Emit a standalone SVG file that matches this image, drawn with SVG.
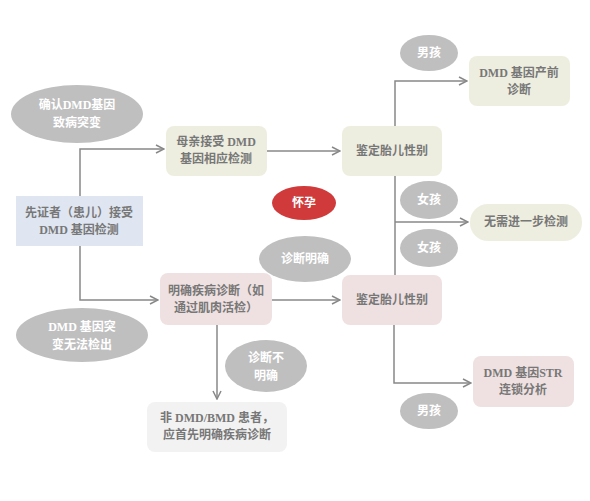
<svg xmlns="http://www.w3.org/2000/svg" width="590" height="501" viewBox="0 0 590 501">
<defs>
<style>
.t{font-family:"Liberation Serif","Noto Sans CJK SC",serif;font-size:12px;font-weight:bold;text-anchor:middle;fill:#777}
.w{fill:#fff}
.ell{fill:#bfbfbf}
.beige{fill:#eeeee0}
.pink{fill:#efe1e1}
.blue{fill:#dfe6f1}
.grey{fill:#f2f2f2}
.ln{fill:none;stroke:#888;stroke-width:1.5}
</style>
<marker id="ah" viewBox="0 0 10 10" refX="9" refY="5" markerWidth="10" markerHeight="10" markerUnits="userSpaceOnUse" orient="auto">
<path d="M1,1 L9,5 L1,9" fill="none" stroke="#888" stroke-width="1.5"/>
</marker>
</defs>
<rect width="590" height="501" fill="#fff"/>
<g id="connectors">
<path class="ln" d="M80,196 V149 H164" marker-end="url(#ah)"/>
<path class="ln" d="M80,246 V300 H158" marker-end="url(#ah)"/>
<path class="ln" d="M267,151 H340" marker-end="url(#ah)"/>
<path class="ln" d="M272,300 H340" marker-end="url(#ah)"/>
<path class="ln" d="M395,126 V81 H467" marker-end="url(#ah)"/>
<path class="ln" d="M395,176 V275"/>
<path class="ln" d="M395,222 H468" marker-end="url(#ah)"/>
<path class="ln" d="M394,325 V383 H471" marker-end="url(#ah)"/>
<path class="ln" d="M217,325 V399" marker-end="url(#ah)"/>
</g>
<g id="n-confirm"><ellipse class="ell" cx="77" cy="114" rx="66" ry="29"/><text class="t w" x="77" y="109">确认DMD基因</text><text class="t w" x="77" y="127">致病突变</text></g>
<g id="n-proband"><rect class="blue" x="16" y="196" width="127" height="50"/><text class="t" x="79" y="217">先证者（患儿）接受</text><text class="t" x="79" y="234">DMD 基因检测</text></g>
<g id="n-mother"><rect class="beige" x="166" y="126" width="101" height="50" rx="8"/><text class="t" x="216" y="146">母亲接受 DMD</text><text class="t" x="216" y="163">基因相应检测</text></g>
<g id="n-nodetect"><ellipse class="ell" cx="82" cy="335" rx="66" ry="27"/><text class="t w" x="82" y="331">DMD 基因突</text><text class="t w" x="82" y="349">变无法检出</text></g>
<g id="n-clinical"><rect class="pink" x="160" y="273" width="112" height="52" rx="8"/><text class="t" x="216" y="295">明确疾病诊断（如</text><text class="t" x="216" y="312">通过肌肉活检）</text></g>
<g id="n-preg"><ellipse cx="304" cy="203" rx="32" ry="17" fill="#d03a3a"/><text class="t w" x="304" y="207">怀孕</text></g>
<g id="n-dxclear"><ellipse class="ell" cx="305" cy="259" rx="46" ry="23"/><text class="t w" x="305" y="263">诊断明确</text></g>
<g id="n-dxunclear"><ellipse class="ell" cx="266" cy="366" rx="41" ry="26"/><text class="t w" x="266" y="362">诊断不</text><text class="t w" x="266" y="380">明确</text></g>
<g id="n-nondmd"><rect class="grey" x="147" y="402" width="140" height="50" rx="8"/><text class="t" x="217" y="422">非 DMD/BMD 患者，</text><text class="t" x="217" y="439">应首先明确疾病诊断</text></g>
<g id="n-sex1"><rect class="beige" x="342" y="126" width="100" height="50" rx="8"/><text class="t" x="392" y="155">鉴定胎儿性别</text></g>
<g id="n-sex2"><rect class="pink" x="342" y="275" width="100" height="50" rx="8"/><text class="t" x="392" y="304">鉴定胎儿性别</text></g>
<g id="n-prenatal"><rect class="beige" x="469" y="56" width="101" height="50" rx="8"/><text class="t" x="519" y="77">DMD 基因产前</text><text class="t" x="519" y="94">诊断</text></g>
<g id="n-nofurther"><rect class="beige" x="470" y="204" width="112" height="37" rx="18"/><text class="t" x="526" y="226">无需进一步检测</text></g>
<g id="n-str"><rect class="pink" x="473" y="356" width="101" height="51" rx="8"/><text class="t" x="523" y="377">DMD 基因STR</text><text class="t" x="523" y="394">连锁分析</text></g>
<g id="n-boy1"><ellipse class="ell" cx="429" cy="53" rx="29" ry="18"/><text class="t w" x="429" y="57">男孩</text></g>
<g id="n-girl1"><ellipse class="ell" cx="429" cy="200" rx="29" ry="19"/><text class="t w" x="429" y="204">女孩</text></g>
<g id="n-girl2"><ellipse class="ell" cx="429" cy="248" rx="29" ry="19"/><text class="t w" x="429" y="252">女孩</text></g>
<g id="n-boy2"><ellipse class="ell" cx="429" cy="411" rx="29" ry="18"/><text class="t w" x="429" y="415">男孩</text></g>
</svg>
